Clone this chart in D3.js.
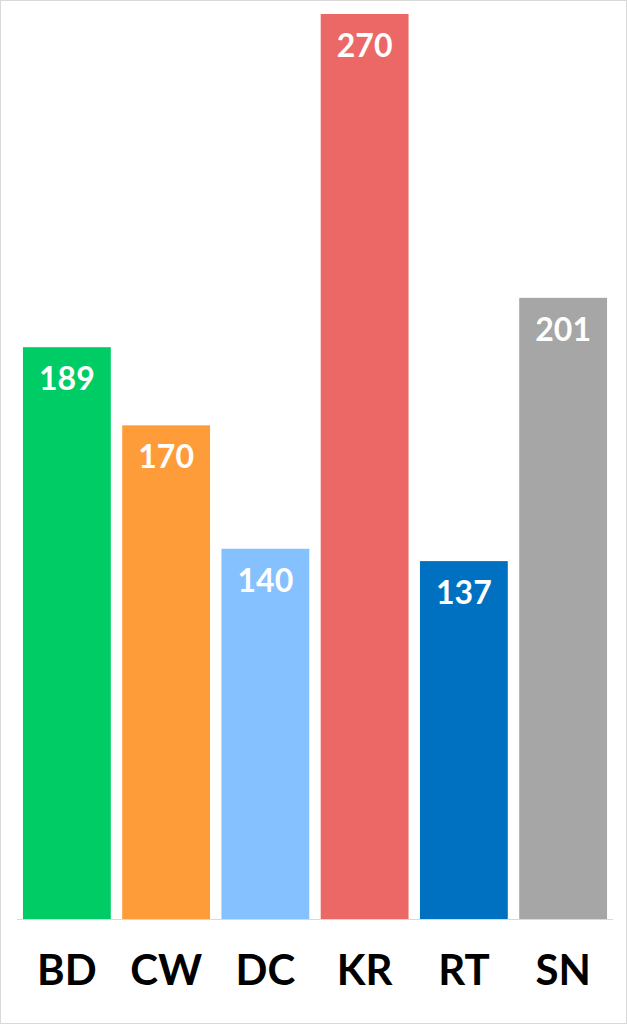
<!DOCTYPE html>
<html><head><meta charset="utf-8">
<script src="https://cdn.jsdelivr.net/npm/d3@7"></script>
<style>body{margin:0;background:#fff}svg{display:block}</style>
</head><body>
<svg id="c" width="627" height="1024"></svg>
<script>
const categories = ["BD","CW","DC","KR","RT","SN"];
const values = [189,170,140,270,137,201];
const colors = ["#00cc66","#ff9c3a","#85c1ff","#ec6866","#0070c0","#a6a6a6"];
const yDomain = [50,270];

const svg = d3.select("#c");
svg.append("rect").attr("x",0.5).attr("y",0.5).attr("width",626).attr("height",1023)
  .attr("fill","#fff").attr("stroke","#d9d9d9");
const x = d3.scaleBand().domain(categories).range([17,613]).paddingInner(0.115).paddingOuter(0.06);
const y = d3.scaleLinear().domain(yDomain).range([919,14]);

svg.selectAll("rect.bar").data(values).join("rect").attr("class","bar")
  .attr("x",(d,i)=>x(categories[i])).attr("width",x.bandwidth())
  .attr("y",d=>y(d)).attr("height",d=>919-y(d)).attr("fill",(d,i)=>colors[i]);

svg.append("line").attr("x1",17).attr("x2",613).attr("y1",919.5).attr("y2",919.5)
  .attr("stroke","#d9d9d9").attr("stroke-width",1);

svg.selectAll("text.val").data(values).join("text").attr("class","val")
  .attr("x",(d,i)=>x(categories[i])+x.bandwidth()/2).attr("y",d=>y(d)+43)
  .attr("text-anchor","middle").attr("fill","#fff")
  .style("font-family","Lato, 'Open Sans', sans-serif").style("font-weight","bold").style("font-size","32px")
  .text(d=>d);

const xa = svg.append("g").attr("transform","translate(0,919)").call(d3.axisBottom(x).tickSize(0).tickPadding(0));
xa.select(".domain").remove();
xa.selectAll("text").attr("dy",0).attr("y",66).attr("fill","#000")
  .style("font-family","Lato, 'Open Sans', sans-serif").style("font-weight","bold").style("font-size","42px");
</script>
</body></html>
